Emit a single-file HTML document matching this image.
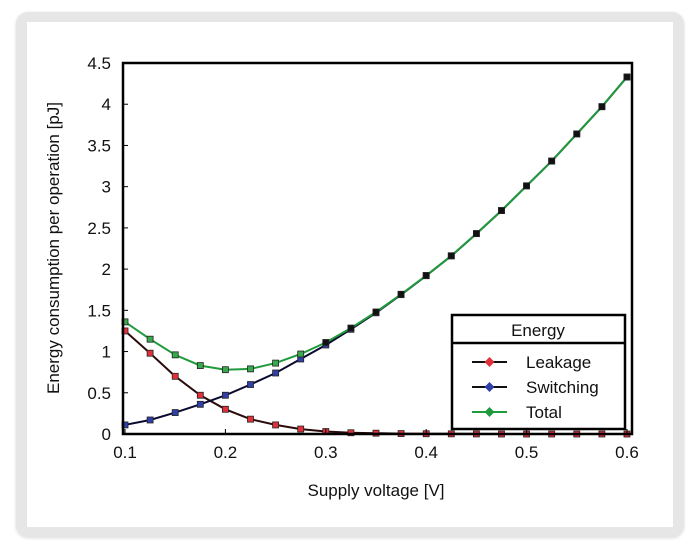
<!DOCTYPE html>
<html><head><meta charset="utf-8"><style>
html,body{margin:0;padding:0;background:#fff;}
#frame{position:absolute;left:16px;top:12px;width:668px;height:525px;background:#e6e6e6;border-radius:12px;box-shadow:0 1px 3px rgba(0,0,0,0.15);}
#card{position:absolute;left:27px;top:22px;width:646px;height:505px;background:#fff;}
svg{position:absolute;left:0;top:0;}
text{font-family:"Liberation Sans",Arial,sans-serif;fill:#111;}
</style></head><body>
<div id="frame"></div>
<div id="card"></div>
<svg id="chart" width="700" height="549"></svg>
<script>
const voltages=[0.1,0.125,0.15,0.175,0.2,0.225,0.25,0.275,0.3,0.325,0.35,0.375,0.4,0.425,0.45,0.475,0.5,0.525,0.55,0.575,0.6];
const leakage=[1.25,0.98,0.70,0.47,0.30,0.18,0.11,0.06,0.03,0.015,0.01,0.005,0.003,0.002,0.001,0,0,0,0,0,0];
const switching=[0.11,0.17,0.26,0.36,0.47,0.60,0.74,0.91,1.08,1.27,1.47,1.69,1.92,2.16,2.43,2.71,3.01,3.31,3.64,3.97,4.33];
const total=[1.36,1.15,0.96,0.83,0.78,0.79,0.86,0.97,1.11,1.285,1.48,1.695,1.923,2.162,2.431,2.71,3.01,3.31,3.64,3.97,4.33];
const xTicks=[0.1,0.2,0.3,0.4,0.5,0.6];
const xTickLabels=["0.1","0.2","0.3","0.4","0.5","0.6"];
const yTicks=[0,0.5,1,1.5,2,2.5,3,3.5,4,4.5];
const yTickLabels=["0","0.5","1","1.5","2","2.5","3","3.5","4","4.5"];
const NS="http://www.w3.org/2000/svg";
const svg=document.getElementById('chart');
const L=123,R=632,T=63,B=434;
const xMin=0.098,xMax=0.605,yMin=0,yMax=4.5;
function xs(v){return L+(v-xMin)/(xMax-xMin)*(R-L);}
function ys(v){return B-(v-yMin)/(yMax-yMin)*(B-T);}
function mk(tag,attrs,parent){const e=document.createElementNS(NS,tag);for(const k in attrs)e.setAttribute(k,attrs[k]);(parent||svg).appendChild(e);return e;}
function txt(s,attrs){const e=mk('text',attrs);e.textContent=s;return e;}
// series
const series=[{name:'leakage',vals:leakage,line:'#2a0a0a',mark:'#e0303a'},{name:'switching',vals:switching,line:'#0a0a30',mark:'#3040a8'},{name:'total',vals:total,line:'#1f9a3c',mark:'#3aa84f'}];
series.forEach(s=>{
  const d=s.vals.map((v,i)=>(i?'L':'M')+xs(voltages[i]).toFixed(1)+','+ys(v).toFixed(1)).join(' ');
  const p=mk('path',{d:d,fill:'none',stroke:s.line,'stroke-width':2});
  
  
});
series.forEach(s=>{
  s.vals.forEach((v,i)=>{
    const dark=(s.name==='total'&&voltages[i]>=0.3);
    const m=mk('rect',{x:xs(voltages[i])-3,y:ys(v)-3,width:6,height:6,fill:dark?'#111':s.mark,stroke:'#222','stroke-width':0.8});
    
    
  });
});
// axes box
const ax=mk('rect',{x:L,y:T,width:R-L,height:B-T,fill:'none',stroke:'#000','stroke-width':2.5});


xTicks.forEach((v,i)=>{
  mk('line',{x1:xs(v),x2:xs(v),y1:B,y2:B-5,stroke:'#000','stroke-width':1});
  const t=txt(xTickLabels[i],{x:xs(v),y:B+24,'text-anchor':'middle','font-size':17});
  
  
});
yTicks.forEach((v,i)=>{
  mk('line',{x1:L,x2:L+5,y1:ys(v),y2:ys(v),stroke:'#000','stroke-width':1});
  const t=txt(yTickLabels[i],{x:L-12,y:ys(v)+6,'text-anchor':'end','font-size':17});
  
  
});
</script>
<svg width="700" height="549" style="pointer-events:none">
<text x="376" y="496" text-anchor="middle" font-size="17">Supply voltage [V]</text>
<text transform="translate(59,248) rotate(-90)" text-anchor="middle" font-size="17">Energy consumption per operation [pJ]</text>
<g>
<rect x="452" y="315" width="173" height="114" fill="#fff" stroke="#000" stroke-width="2.5"/>
<line x1="452" y1="343" x2="625" y2="343" stroke="#000" stroke-width="2.5"/>
<text x="538" y="336" text-anchor="middle" font-size="17">Energy</text>
<g>
<line x1="472" y1="362" x2="507" y2="362" stroke="#111" stroke-width="2"/><rect x="486" y="358.5" width="7" height="7" fill="#e0303a" transform="rotate(45 489.5 362)"/>
<text x="526" y="368" font-size="17">Leakage</text></g>
<g>
<line x1="472" y1="387" x2="507" y2="387" stroke="#111" stroke-width="2"/><rect x="486" y="383.5" width="7" height="7" fill="#3040a8" transform="rotate(45 489.5 387)"/>
<text x="526" y="393" font-size="17">Switching</text></g>
<g>
<line x1="472" y1="412" x2="507" y2="412" stroke="#1f9a3c" stroke-width="2"/><rect x="486" y="408.5" width="7" height="7" fill="#1f9a3c" transform="rotate(45 489.5 412)"/>
<text x="526" y="418" font-size="17">Total</text></g>
</g>
</svg>
</body></html>
